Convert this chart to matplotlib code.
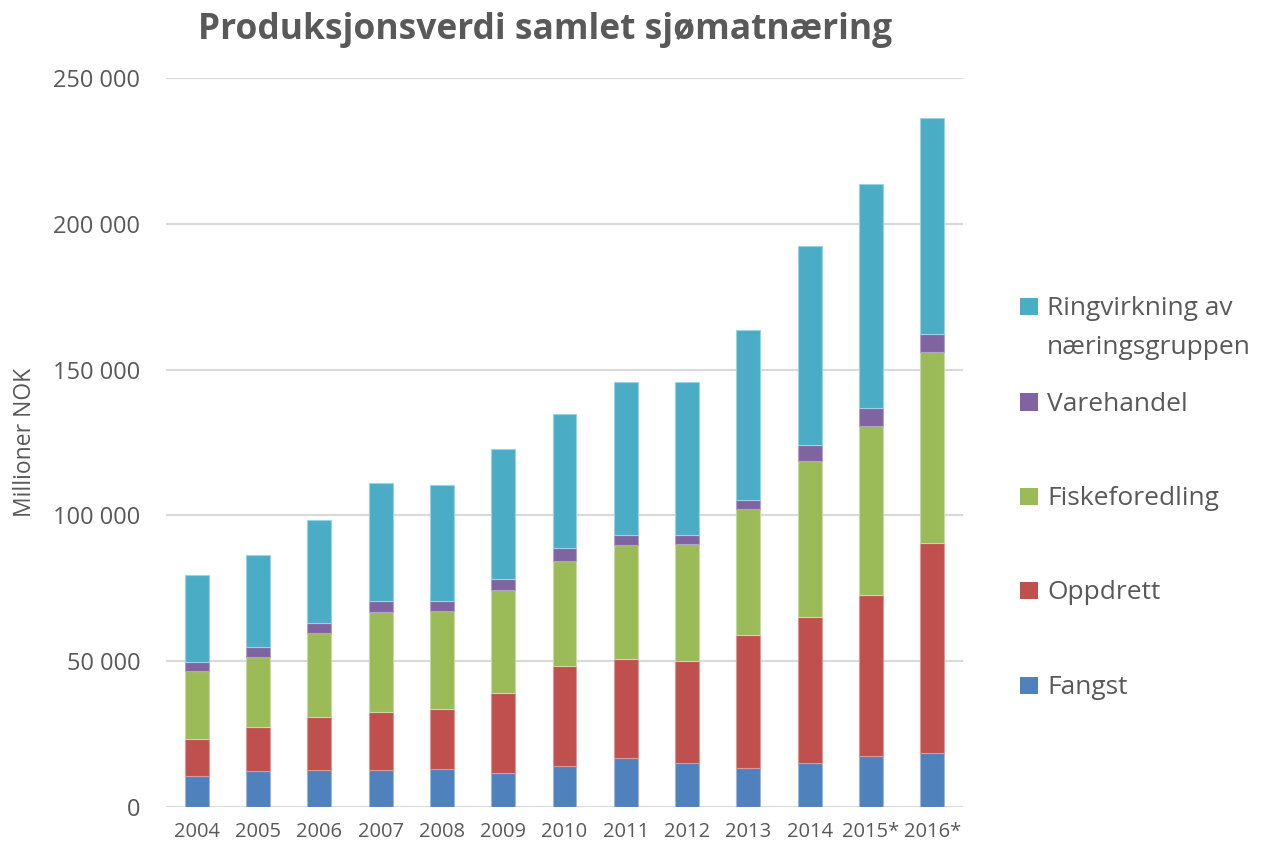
import matplotlib
matplotlib.use("Agg")
import matplotlib.pyplot as plt
import numpy as np
from matplotlib.patches import Rectangle
from matplotlib.ticker import FuncFormatter

years = ["2004", "2005", "2006", "2007", "2008", "2009", "2010", "2011", "2012", "2013", "2014", "2015*", "2016*"]
fangst = [10500, 12200, 12600, 12700, 12900, 11800, 14000, 16700, 15000, 13300, 15000, 17400, 18500]
oppdrett = [12700, 15200, 18400, 19800, 20800, 27200, 34200, 33900, 35200, 45600, 50000, 55200, 72200]
fiskeforedling = [23400, 24000, 28600, 34400, 33600, 35500, 36200, 39100, 39900, 43200, 53600, 58200, 65300]
varehandel = [3100, 3600, 3500, 3700, 3500, 3800, 4300, 3500, 3100, 3200, 5500, 6100, 6100]
ringvirkning = [29900, 31400, 35300, 40400, 39600, 44400, 46000, 52500, 52600, 58300, 68200, 76700, 74300]

series_names = ["Fangst", "Oppdrett", "Fiskeforedling", "Varehandel", "Ringvirkning av\nnæringsgruppen"]
series = [fangst, oppdrett, fiskeforedling, varehandel, ringvirkning]
colors = ["#4F81BD", "#C0504D", "#9BBB59", "#8064A2", "#4BACC6"]
edges = ["#9DB6DA", "#DA9896", "#C6D9A6", "#B3A2C8", "#9AD3E2"]

FONT = "Open Sans"
TXT = "#595959"
plt.rcParams["font.family"] = [FONT, "DejaVu Sans"]

W, H = 1270, 846
fig = plt.figure(figsize=(W / 100, H / 100), dpi=100)
L, R, T, B = 166, 963, 78, 807
ax = fig.add_axes([L / W, 1 - B / H, (R - L) / W, (B - T) / H])

x = np.arange(len(years))
bottom = np.zeros(len(years))
for vals, c, ec in zip(series, colors, edges):
    ax.bar(x, vals, width=0.39, bottom=bottom, color=c, edgecolor=ec, linewidth=0.8, zorder=3)
    bottom += np.array(vals)

ax.set_xlim(-0.5, len(years) - 0.5)
ax.set_ylim(0, 250000)
ax.set_yticks(np.arange(0, 250001, 50000))
ax.yaxis.set_major_formatter(FuncFormatter(lambda v, p: f"{int(v):,}".replace(",", " ")))
ax.set_xticks(x)
ax.set_xticklabels(years)
ax.grid(axis="y", color="#D9D9D9", linewidth=1.5, zorder=0)
for s in ax.spines.values():
    s.set_visible(False)
ax.tick_params(axis="both", length=0, colors=TXT)
ax.tick_params(axis="y", labelsize=17, pad=18.5)
ax.tick_params(axis="x", labelsize=14.5, pad=11)
for lab in ax.get_yticklabels() + ax.get_xticklabels():
    lab.set_color(TXT)

fig.text(25 / W, 1 - 442 / H, "Millioner NOK", rotation=90, ha="center", va="center",
         fontsize=16.5, color=TXT)

fig.text(545 / W, 1 - 38.5 / H, "Produksjonsverdi samlet sjømatnæring", ha="center", va="baseline",
         fontsize=25.5, fontweight="bold", color=TXT)

# legend (manual placement, reversed order): baselines of each text line
leg_lines = [["Ringvirkning av", "næringsgruppen"], ["Varehandel"], ["Fiskeforedling"], ["Oppdrett"], ["Fangst"]]
leg_base = [[315, 354], [411], [505], [599], [694]]
for lines, c, bases in zip(leg_lines, colors[::-1], leg_base):
    b0 = bases[0]
    fig.add_artist(Rectangle((1020 / W, 1 - b0 / H), 18 / W, 17.5 / H, transform=fig.transFigure,
                             facecolor=c, edgecolor="none"))
    for line, bb in zip(lines, bases):
        fig.text(1047 / W, 1 - bb / H, line, ha="left", va="baseline", fontsize=19, color=TXT)

fig.savefig("out.png", dpi=100, facecolor="white")
